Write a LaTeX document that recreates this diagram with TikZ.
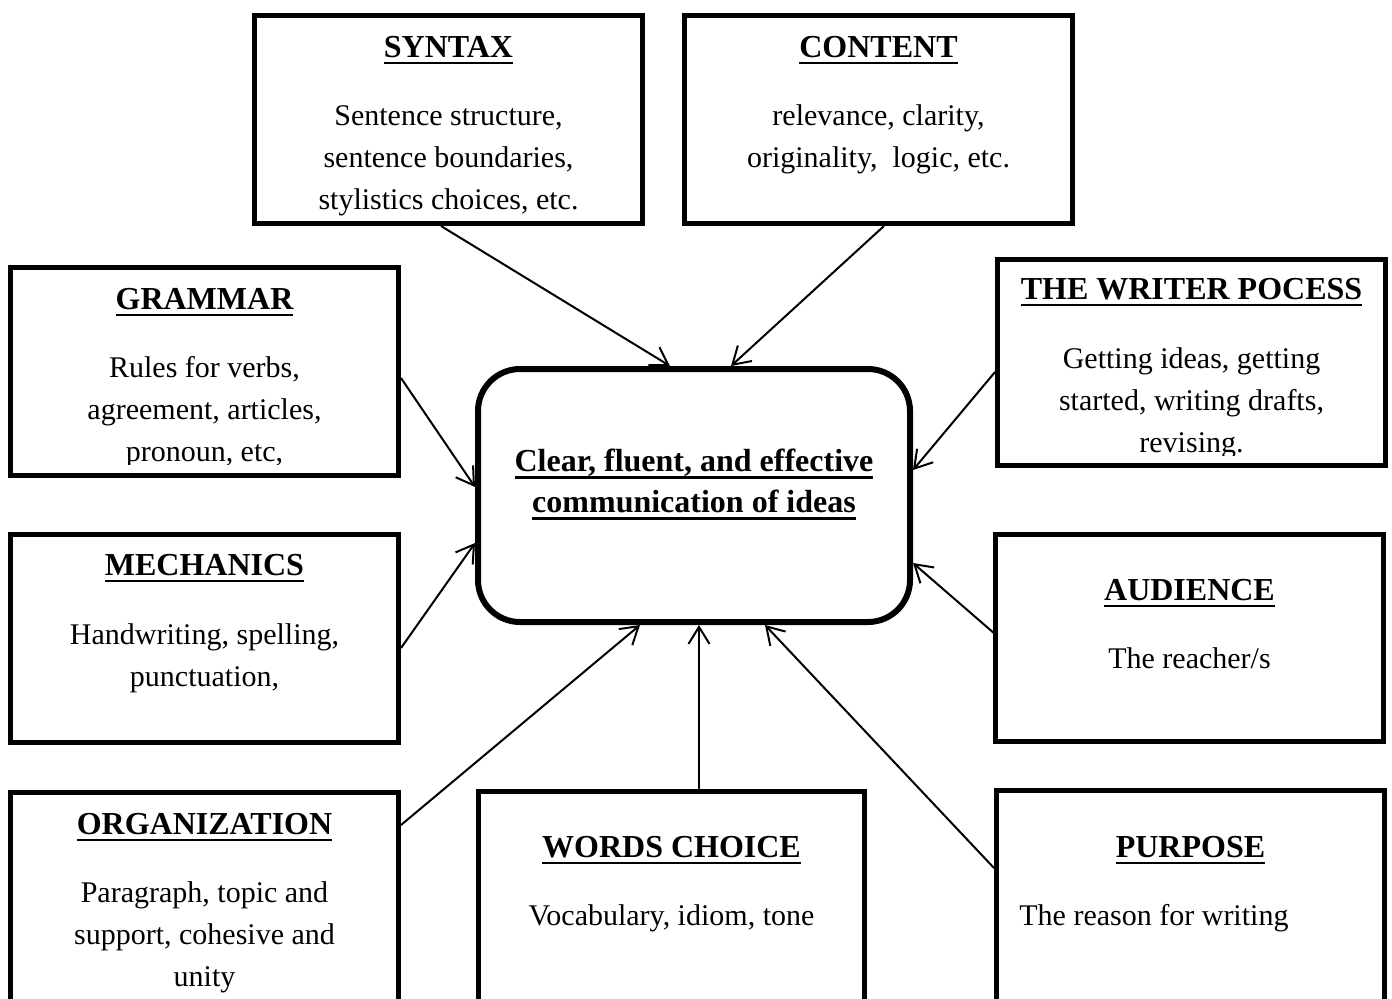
\documentclass[tikz,border=0pt]{standalone}
\usepackage{fontspec}
\setmainfont{Liberation Serif}
\usetikzlibrary{arrows.meta,calc}
\newcommand{\myul}[2][1pt]{\setbox0\hbox{#2}\mbox{\rlap{\rule[\dimexpr-2.3pt-#1\relax]{\wd0}{#1}}\box0}}
\begin{document}
\begin{tikzpicture}[x=0.5pt,y=-0.5pt,
  box/.style={draw=black,line width=2.5pt,minimum width=194pt,minimum height=104pt,inner sep=0pt},
  hub/.style={draw=black,line width=3pt,rounded corners=21pt,minimum width=216pt,minimum height=126.5pt,inner sep=0pt},
  ttl/.style={anchor=base,font=\fontsize{16}{21}\selectfont\bfseries,inner sep=0pt},
  txt/.style={anchor=base,font=\fontsize{15}{21}\selectfont,align=center,inner sep=0pt},
  link/.style={line width=1pt,-{Straight Barb[length=8.5pt,width=10.5pt]}},
]
\useasboundingbox (0,0) rectangle (1392,998);
\clip (0,0) rectangle (1392,998);

% boxes
\node[box] (syntax) at (448.5,119.5) {};
\node[box] (content) at (878.5,119.5) {};
\node[box] (grammar) at (204.5,371.5) {};
\node[box,minimum height=103pt] (writer) at (1191.5,362.5) {};
\node[box] (mech) at (204.5,638.5) {};
\node[box,minimum height=103.5pt] (aud) at (1189.5,638) {};
\node[box,minimum height=108.75pt] (org) at (204.5,901.25) {};
\node[box,minimum width=193pt,minimum height=109.25pt] (words) at (671.5,900.75) {};
\node[box,minimum height=109.75pt] (purp) at (1190.5,900.25) {};
\node[hub] (main) at (694,495.5) {};

% titles
\node[ttl] (syntaxT) at (448.5,57) {\myul{SYNTAX}};
\node[ttl] (contentT) at (878.5,57) {\myul{CONTENT}};
\node[ttl] (grammarT) at (204.5,309) {\myul{GRAMMAR}};
\node[ttl] (writerT) at (1191.5,299) {\myul{THE WRITER POCESS}};
\node[ttl] (mechT) at (204.5,575) {\myul{MECHANICS}};
\node[ttl] (audT) at (1189.5,600) {\myul{AUDIENCE}};
\node[ttl] (orgT) at (204.5,834) {\myul{ORGANIZATION}};
\node[ttl] (wordsT) at (671.5,857) {\myul{WORDS CHOICE}};
\node[ttl] (purpT) at (1190.5,857) {\myul{PURPOSE}};

% bodies (anchor = baseline of the last line)
\node[txt] (syntaxB) at (448.5,209) {Sentence structure,\\sentence boundaries,\\stylistics choices, etc.};
\node[txt] (contentB) at (878.5,167) {relevance, clarity,\\originality,\ \ logic, etc.};
\begin{scope}
\clip (10,268) rectangle (399,464);
\node[txt] (grammarB) at (204.5,461) {Rules for verbs,\\agreement, articles,\\pronoun, etc,};
\end{scope}
\begin{scope}
\clip (997,260) rectangle (1386,455);
\node[txt] (writerB) at (1191.5,452) {Getting ideas, getting\\started, writing drafts,\\revising.};
\end{scope}
\node[txt] (mechB) at (204.5,686) {Handwriting, spelling,\\punctuation,};
\node[txt] (audB) at (1189.5,668) {The reacher/s};
\node[txt] (orgB) at (204.5,986) {Paragraph, topic and\\support, cohesive and\\unity};
\node[txt] (wordsB) at (671.5,925) {Vocabulary, idiom, tone};
\node[txt,anchor=base west] (purpB) at (1019,925) {The reason for writing};

% centre text
\node[txt,font=\fontsize{16}{20.5}\selectfont\bfseries] (mainT) at (694,512)
  {\myul[1.5pt]{Clear, fluent, and effective}\\\myul[1.5pt]{communication of ideas}};

% connectors
\draw[link] ($(syntax.south)+(-7.5,0)$) -- ($(main.north)+(-24,0)$);
\draw[link] ($(content.south)+(5.5,0)$) -- ($(main.north)+(37,0)$);
\draw[link] ($(grammar.east)+(0,6.5)$) -- ($(main.west)+(0,-8.5)$);
\draw[link] ($(writer.west)+(0,9.5)$) -- ($(main.east)+(0,-25.5)$);
\draw[link] ($(mech.east)+(0,9.5)$) -- ($(main.west)+(0,47.5)$);
\draw[link] ($(aud.west)+(2,-4)$) -- ($(main.east)+(0,67.5)$);
\draw[link] ($(org.north east)+(0,35)$) -- ($(main.south)+(-54,0)$);
\draw[link] ($(words.north)+(27.5,0)$) -- ($(main.south)+(5,0)$);
\draw[link] ($(purp.north west)+(0,80)$) -- ($(main.south)+(71,0)$);
\end{tikzpicture}
\end{document}
